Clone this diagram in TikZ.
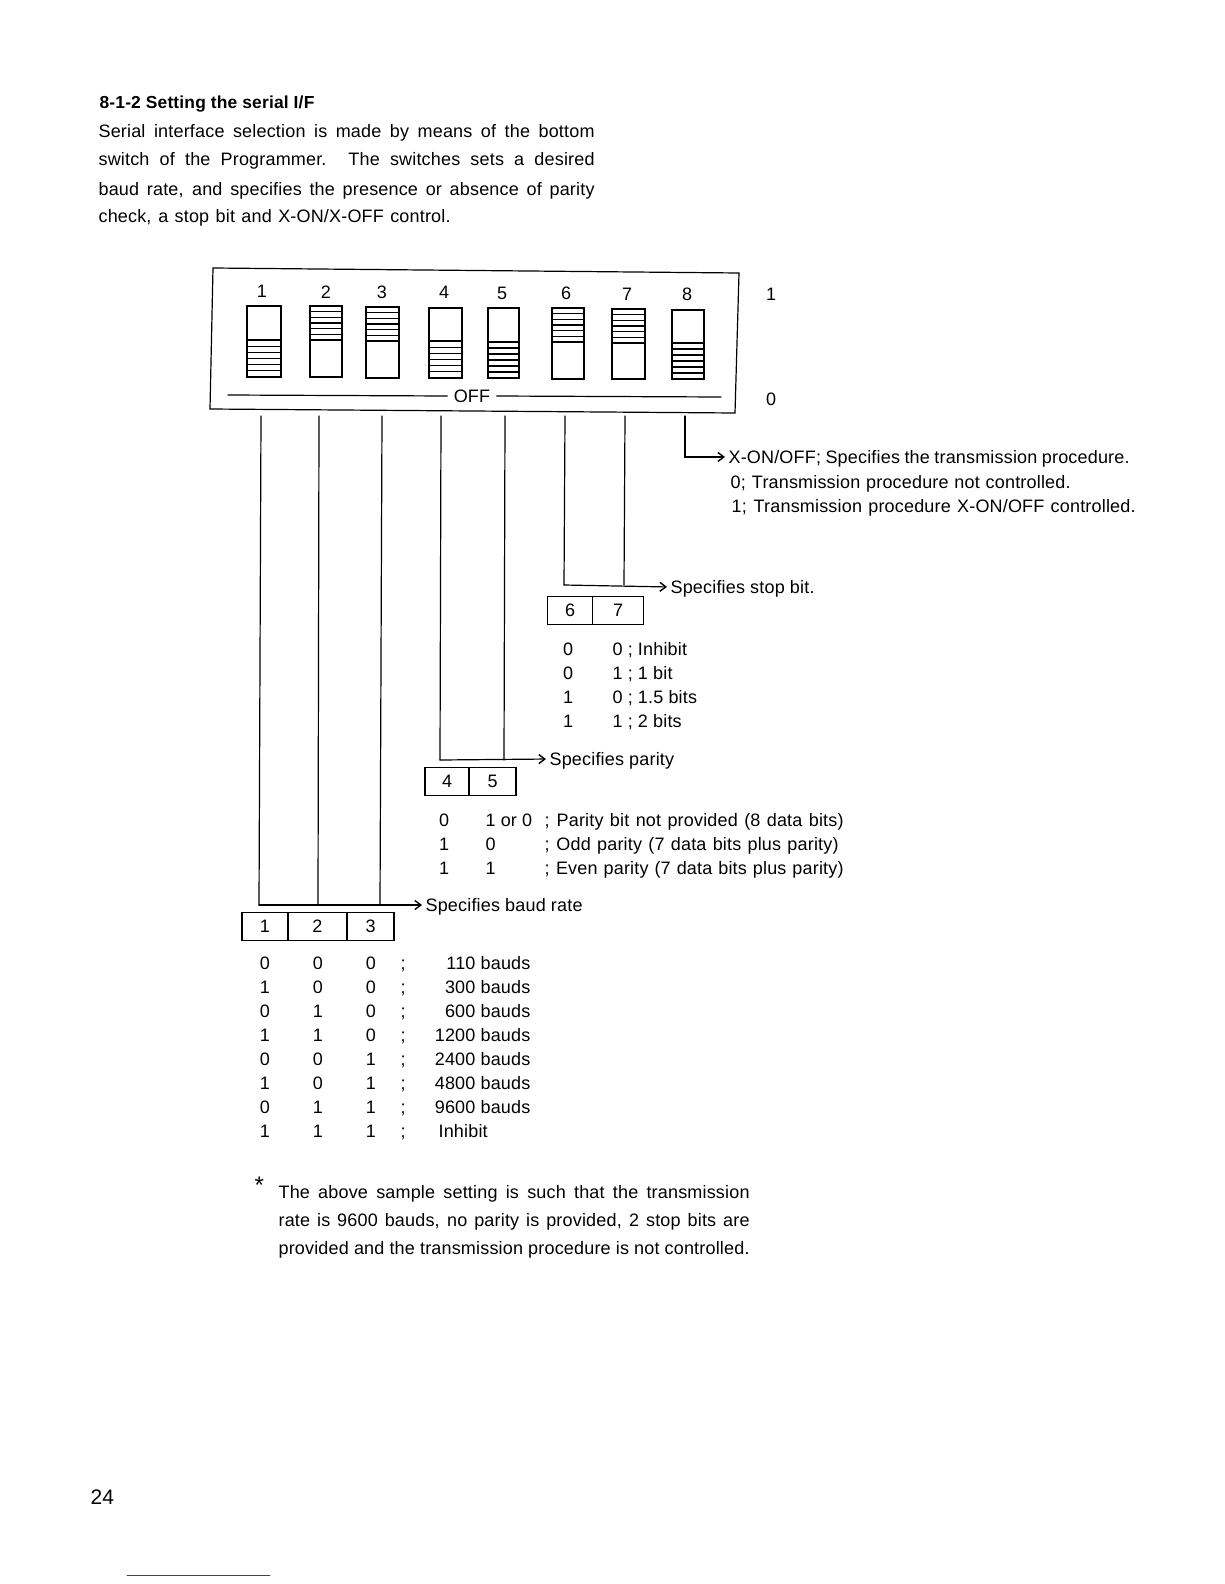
\documentclass[tikz,border=0pt]{standalone}
\usepackage{fontspec}
\setmainfont[LetterSpace=1]{Liberation Sans}
\usetikzlibrary{calc, arrows.meta}

\begin{document}
\begin{tikzpicture}[
  x=1pt, y=-1pt, line width=1.2pt, line cap=round,
  >={Straight Barb[length=6pt,width=9pt,line width=1.4pt]},
  txt/.style={anchor=west, inner sep=0pt, text height=12pt, text depth=0pt,
    font=\fontsize{18}{20}\selectfont},
  num/.style={txt, anchor=center},
  cell/.style={draw, rectangle, minimum height=28pt, inner sep=0pt, txt, anchor=center},
  lead/.style={->, shorten >=3pt},
]
  \useasboundingbox (0,0) rectangle (1224,1584);

  % heading and top paragraph
  \node[txt, font=\fontsize{17.4}{20}\selectfont\bfseries] (head) at (99,103) {8-1-2 Setting the serial I/F};
  \node[txt] (parA) at (98,132) {\makebox[496pt][s]{Serial interface selection is made by means of the bottom}};
  \node[txt] (parB) at (98,159) {\makebox[496pt][s]{switch of the Programmer. The switches sets a desired}};
  \node[txt] (parC) at (98,189) {\makebox[496pt][s]{baud rate, and specifies the presence or absence of parity}};
  \node[txt] (parD) at (98,216) {\makebox[352pt][s]{check, a stop bit and X-ON/X-OFF control.}};

  % switch block
  \coordinate (TL) at (213,268);
  \coordinate (TR) at (739,273);
  \coordinate (BR) at (735,413);
  \coordinate (BL) at (210,409);
  \draw (TL)--(TR)--(BR)--(BL)--cycle;

  % number / left / right / top / middle / bottom / slider up or down
  \foreach \n/\xl/\xr/\yt/\ym/\yb/\st in {
    1/247/281/306/340/377/0, 2/310/342/306/340/377/1, 3/366/399/307/341/378/1,
    4/429/462/308/341/378/0, 5/488/519/308/342/378/0, 6/552/584/308/342/379/1,
    7/612/645/309/343/379/1, 8/672/704/310/343/379/0}
  {
    \draw (\xl,\yt) rectangle (\xr,\yb);
    \ifnum\st=1 \def\ya{\yt}\def\yz{\ym}\else \def\ya{\ym}\def\yz{\yb}\fi
    \foreach \k in {0,...,6}
      \draw ($(\xl,\ya)!\k/6!(\xl,\yz)$) -- ($(\xr,\ya)!\k/6!(\xr,\yz)$);
  }

  \foreach \n/\x/\y in {1/262/291, 2/326/292, 3/382/292, 4/444/292, 5/502/293, 6/566/293, 7/627/294, 8/687/294}
    \node[num] (top\n) at (\x,\y) {\n};

  \node[num, inner xsep=6pt] (off) at (472,396) {OFF};
  \coordinate (offL) at (228,395);
  \coordinate (offR) at (721,397);
  \draw (offL) -- (off.west);
  \draw (off.east) -- (offR);

  \node[num] (on) at (771,294) {1};
  \node[num] (zero) at (771,399) {0};

  % leads
  \coordinate (p1) at (261,416);
  \coordinate (p2) at (319,416);
  \coordinate (p3) at (382,416);
  \coordinate (p4) at (441,416);
  \coordinate (p5) at (505,416);
  \coordinate (p6) at (565,416);
  \coordinate (p7) at (625,416);
  \coordinate (p8) at (685,416);

  \coordinate (q1) at (259,905);
  \coordinate (q2) at (318,905);
  \coordinate (q3) at (380,905);
  \coordinate (q4) at (440,760);
  \coordinate (q5) at (504,760);
  \coordinate (q6) at (564,585);
  \coordinate (q7) at (624,585);
  \coordinate (q8) at (685,457);

  % baud rate
  \node[txt] (baud) at (425,905) {Specifies baud rate};
  \draw (p1)--(q1);
  \draw (p2)--(q2);
  \draw (p3)--(q3);
  \draw[lead] (q1)--(baud.west);
  \node[cell, minimum width=46pt] (c1) at (265,926.5) {1};
  \node[cell, minimum width=59pt] (c2) at (317.5,926.5) {2};
  \node[cell, minimum width=47pt] (c3) at (370.5,926.5) {3};

  \foreach \i/\y/\a/\b/\c/\t in {
    1/963/0/0/0/110 bauds, 2/987/1/0/0/300 bauds, 3/1011/0/1/0/600 bauds,
    4/1035/1/1/0/1200 bauds, 5/1059/0/0/1/2400 bauds, 6/1083/1/0/1/4800 bauds,
    7/1107/0/1/1/9600 bauds}
  {
    \node[num] (ba\i) at (265,\y) {\a};
    \node[num] (bb\i) at (318,\y) {\b};
    \node[num] (bc\i) at (371,\y) {\c};
    \node[num] (bs\i) at (403,\y) {;};
    \node[txt, anchor=east] (bt\i) at (531,\y) {\t};
  }
  \node[num] (ba8) at (265,1131) {1};
  \node[num] (bb8) at (318,1131) {1};
  \node[num] (bc8) at (371,1131) {1};
  \node[num] (bs8) at (403,1131) {;};
  \node[txt] (bt8) at (438,1131) {Inhibit};

  % parity
  \node[txt] (parity) at (549,759) {Specifies parity};
  \draw (p4)--(q4);
  \draw (p5)--(q5);
  \draw[lead] (q4)--(parity.west);
  \node[cell, minimum width=44pt] (c4) at (447,781.5) {4};
  \node[cell, minimum width=47pt] (c5) at (492.5,781.5) {5};

  \foreach \i/\y/\a/\b/\w/\t in {
    1/820/0/1 or 0/299/; Parity bit not provided (8 data bits),
    2/844/1/0/294/; Odd parity (7 data bits plus parity),
    3/868/1/1/299/; Even parity (7 data bits plus parity)}
  {
    \node[num] (pa\i) at (444,\y) {\a};
    \node[txt] (pb\i) at (485,\y) {\b};
    \node[txt] (pt\i) at (544,\y) {\makebox[\w pt][s]{\t}};
  }

  % stop bit
  \node[txt] (stop) at (670,587) {Specifies stop bit.};
  \draw (p6)--(q6);
  \draw (p7)--(q7);
  \draw[lead] (q6)--(stop.west);
  \node[cell, minimum width=45pt] (c6) at (570,610.5) {6};
  \node[cell, minimum width=51pt] (c7) at (618,610.5) {7};

  \foreach \i/\y/\a/\t in {1/649/0/0 ; Inhibit, 2/673/0/1 ; 1 bit, 3/697/1/0 ; 1.5 bits, 4/721/1/1 ; 2 bits}
  {
    \node[num] (sa\i) at (568,\y) {\a};
    \node[txt] (st\i) at (612,\y) {\t};
  }

  % X-ON/OFF
  \node[txt] (xon) at (728,457) {\makebox[401pt][s]{X-ON/OFF; Specifies the transmission procedure.}};
  \draw[lead] (p8)--(q8)--(xon.west);
  \node[txt] (xa) at (730,482) {\makebox[340pt][s]{0; Transmission procedure not controlled.}};
  \node[txt] (xb) at (731,506) {\makebox[404pt][s]{1; Transmission procedure X-ON/OFF controlled.}};

  % footnote
  \node[txt, font=\fontsize{24}{24}\selectfont] (star) at (254,1187) {*};
  \node[txt] (noteA) at (278,1192) {\makebox[471pt][s]{The above sample setting is such that the transmission}};
  \node[txt] (noteB) at (278,1220) {\makebox[471pt][s]{rate is 9600 bauds, no parity is provided, 2 stop bits are}};
  \node[txt] (noteC) at (278,1248) {\makebox[471pt][s]{provided and the transmission procedure is not controlled.}};

  \node[txt, font=\fontsize{21}{24}\selectfont] (page) at (90,1498) {24};
  \coordinate (ruleL) at (127,1575);
  \coordinate (ruleR) at (270,1575);
  \draw[blue!60!gray, line width=0.7pt] (ruleL)--(ruleR);
\end{tikzpicture}
\end{document}
